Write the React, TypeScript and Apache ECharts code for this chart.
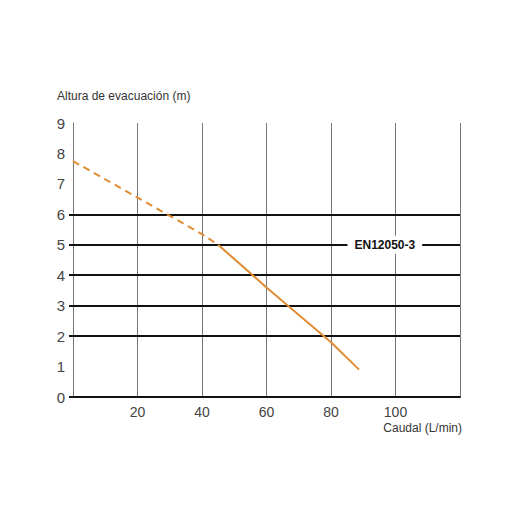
import React, { useEffect, useRef } from "react";
import * as echarts from "echarts";

const dashedCurve: [number, number][] = [
  [0, 7.75],
  [20, 6.55],
  [40, 5.35],
  [45, 5.0],
];
const solidCurve: [number, number][] = [
  [45, 5.0],
  [60, 3.6],
  [80, 1.8],
  [88.7, 0.9],
];
const thickLevels = [0, 2, 3, 4, 5, 6];
const normLabel = "EN12050-3";
const normLevel = 5;
const normLabelX = 96.7;
const yTitle = "Altura de evacuación (m)";
const xTitle = "Caudal (L/min)";

const ORANGE = "#E08C33";
const FONT = "Liberation Sans, Arial, sans-serif";

export default function App() {
  const ref = useRef<HTMLDivElement>(null);
  useEffect(() => {
    if (!ref.current) return;
    const chart = echarts.init(ref.current, null, { renderer: "svg" });
    chart.setOption({
      animation: false,
      backgroundColor: "#fff",
      grid: { left: 73, right: 60, top: 123, bottom: 123 },
      xAxis: {
        type: "value",
        min: 0,
        max: 120,
        interval: 20,
        axisLine: { show: true, lineStyle: { color: "#111", width: 2 } },
        axisTick: { show: false },
        axisLabel: {
          margin: 8,
          color: "#444",
          fontSize: 14,
          fontFamily: FONT,
          formatter: (v: number) => (v === 0 || v === 120 ? "" : String(v)),
        },
        splitLine: { show: true, lineStyle: { color: "#777", width: 1 } },
      },
      yAxis: {
        type: "value",
        min: 0,
        max: 9,
        interval: 1,
        axisLine: { show: true, lineStyle: { color: "#777", width: 1 } },
        axisTick: {
          show: true,
          customValues: thickLevels,
          length: 4,
          lineStyle: { color: "#111", width: 2 },
        },
        axisLabel: { margin: 8, color: "#444", fontSize: 15, fontFamily: FONT },
        splitLine: { show: true, lineStyle: { color: "#777", width: 1 } },
      },
      graphic: [
        {
          type: "text",
          left: 57,
          top: 90,
          style: { text: yTitle, fill: "#333", fontSize: 12, fontFamily: FONT },
        },
        {
          type: "text",
          right: 58,
          top: 422,
          style: { text: xTitle, fill: "#333", fontSize: 12, fontFamily: FONT },
        },
      ],
      series: [
        {
          type: "line",
          data: [],
          silent: true,
          markLine: {
            silent: true,
            symbol: "none",
            label: { show: false },
            lineStyle: { color: "#111", width: 2, type: "solid" },
            data: thickLevels.map((v) => ({ yAxis: v })),
          },
          markPoint: {
            silent: true,
            symbol: "rect",
            symbolSize: 0,
            label: {
              show: true,
              position: "inside",
              formatter: normLabel,
              color: "#111",
              fontWeight: "bold",
              fontSize: 12,
              fontFamily: FONT,
              backgroundColor: "#fff",
              padding: [3, 7],
            },
            data: [{ coord: [normLabelX, normLevel] }],
          },
        },
        {
          type: "line",
          data: dashedCurve,
          showSymbol: false,
          lineStyle: { color: ORANGE, width: 2, type: [7, 5] },
          z: 5,
        },
        {
          type: "line",
          data: solidCurve,
          showSymbol: false,
          lineStyle: { color: ORANGE, width: 2 },
          z: 5,
        },
      ],
    });
    return () => chart.dispose();
  }, []);
  return (
    <div
      ref={ref}
      style={{ position: "fixed", left: 0, top: 0, width: 520, height: 520 }}
    />
  );
}
